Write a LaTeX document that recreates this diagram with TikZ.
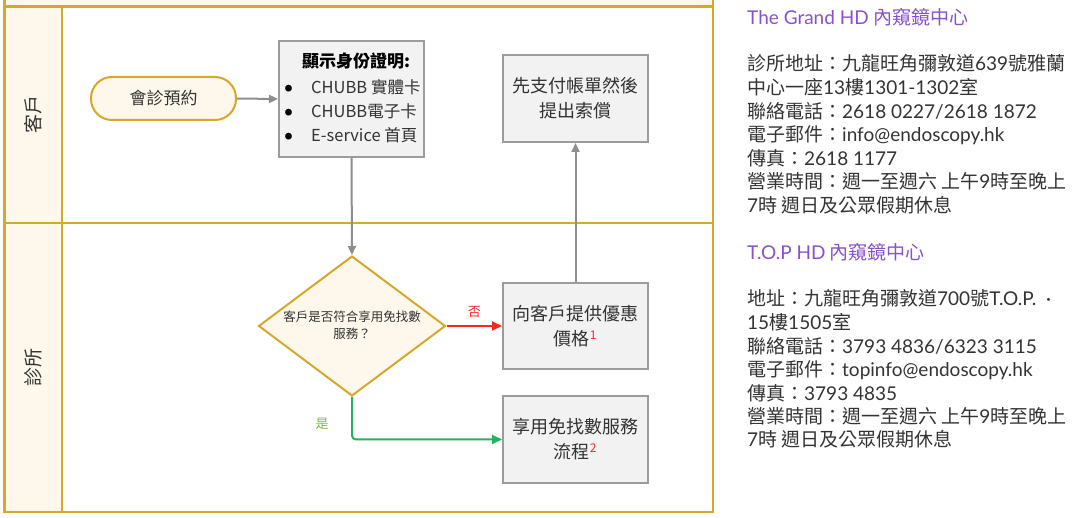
\documentclass[tikz,border=0pt]{standalone}
\usepackage{fontspec}
\setmainfont{Noto Sans CJK TC}
\newfontfamily\lato{Lato}
\usetikzlibrary{shapes.geometric,arrows.meta}
\definecolor{gold}{HTML}{D6A82A}
\definecolor{cream}{HTML}{FEF8EC}
\definecolor{boxfill}{HTML}{F2F2F2}
\definecolor{boxline}{HTML}{9C9C9C}
\definecolor{arrgray}{HTML}{8E8E8E}
\definecolor{nored}{HTML}{FF2424}
\definecolor{yesgreen}{HTML}{22B35E}
\definecolor{yeslabel}{HTML}{7DB548}
\definecolor{purp}{HTML}{8A4FCC}
\definecolor{txt}{HTML}{333333}
\tikzset{
  lane/.style={draw=gold, line width=2.4pt},
  grayrect/.style={draw=boxline, fill=boxfill, line width=2pt, minimum width=145pt, inner sep=0pt, text=txt, align=center, font=\fontsize{18}{25}\selectfont},
  conn/.style={draw=arrgray, line width=2pt, -{Triangle[width=8pt,length=9pt]}},
  info/.style={anchor=base west, inner sep=0pt, text=txt, font=\fontsize{19}{23}\selectfont},
  infohead/.style={anchor=base west, inner sep=0pt, text=purp, font=\fontsize{19}{23}\selectfont},
  bul/.style={inner sep=0pt, text=black, font=\fontsize{7.5}{7.5}\selectfont},
  item/.style={anchor=base west, inner sep=0pt, font=\fontsize{16.5}{16.5}\selectfont, text=txt},
}
\newcommand{\supred}[1]{\textsuperscript{\textcolor{nored}{\fontsize{12}{12}\selectfont #1}}}
\begin{document}
\begin{tikzpicture}[x=1pt,y=-1pt]
\useasboundingbox (0,0) rectangle (1080,518);
% pool frame
\fill[cream] (4.5,0) rectangle (713,6.5);
\fill[cream] (4.5,6.5) rectangle (62,512);
\draw[lane] (4.5,0) -- (4.5,512) -- (713,512) -- (713,0);
\draw[lane] (4.5,6.5) -- (713,6.5);
\draw[lane] (4.5,223) -- (713,223);
\draw[lane] (62,6.5) -- (62,512);
\node[rotate=90, text=txt, font=\fontsize{19}{19}\selectfont] (lane1) at (33,115) {客戶};
\node[rotate=90, text=txt, font=\fontsize{19}{19}\selectfont] (lane2) at (33,368) {診所};
% nodes
\node[draw=gold, fill=cream, line width=2pt, rounded corners=21pt, minimum width=145pt, minimum height=43pt, text=txt, font=\fontsize{17}{17}\selectfont] (start) at (163.5,98.5) {會診預約};
\node[grayrect, minimum height=116pt] (id) at (351.5,99) {};
\node[text=black, font=\fontsize{17}{17}\selectfont\bfseries] (idt) at (356,61) {顯示身份證明:};
\node[bul] (b1) at (288.5,88.5) {●};
\node[bul] (b2) at (288.5,112.5) {●};
\node[bul] (b3) at (288.5,136.5) {●};
\node[item] (i1) at (311,94) {CHUBB 實體卡};
\node[item] (i2) at (311,118) {CHUBB電子卡};
\node[item] (i3) at (311,142) {E-service 首頁};
\node[grayrect, minimum height=87pt] (pay) at (575.5,98.5) {先支付帳單然後\\提出索償};
\node[grayrect, minimum height=86pt] (offer) at (575.5,326) {向客戶提供優惠\\價格\supred{1}};
\node[grayrect, minimum height=87pt] (free) at (575.5,439.5) {享用免找數服務\\流程\supred{2}};
\node[diamond, draw=gold, fill=cream, line width=2pt, minimum width=187pt, minimum height=140pt, inner sep=0pt] (dec) at (352,326) {};
\node[align=center, text=txt, font=\fontsize{12.5}{17}\selectfont] (dect) at (352,325) {客戶是否符合享用免找數\\服務？};
% connectors
\draw[conn] (start.east) -- (id.west);
\draw[conn] (id.south) -- (dec.north);
\draw[conn] (offer.north) -- (pay.south);
\draw[draw=nored, line width=2pt, -{Triangle[width=9pt,length=10pt]}] (dec.east) -- node[above=4pt, text=nored, font=\fontsize{13}{13}\selectfont] (no) {否} (offer.west);
\draw[draw=yesgreen, line width=2pt, rounded corners=4pt, -{Triangle[width=9pt,length=10pt]}] (dec.south) |- (free.west);
\node[text=yeslabel, font=\fontsize{13}{13}\selectfont] (yes) at (322,424) {是};
% right info text
\node[infohead] (h1) at (747,25) {{\lato The Grand HD} 內窺鏡中心};
\node[info] (t1) at (747,71) {診所地址：九龍旺角彌敦道{\lato 639}號雅蘭};
\node[info] (t2) at (747,95) {中心一座{\lato 13}樓{\lato 1301-1302}室};
\node[info] (t3) at (747,119) {聯絡電話：{\lato 2618 0227/2618 1872}};
\node[info] (t4) at (747,142) {電子郵件：{\lato info@endoscopy.hk}};
\node[info] (t5) at (747,166) {傳真：{\lato 2618 1177}};
\node[info] (t6) at (747,189) {營業時間：週一至週六 上午{\lato 9}時至晚上};
\node[info] (t7) at (747,213) {{\lato 7}時 週日及公眾假期休息};
\node[infohead] (h2) at (747,260) {{\lato T.O.P HD} 內窺鏡中心};
\node[info] (u1) at (747,306) {地址：九龍旺角彌敦道{\lato 700}號{\lato T.O.P.\ \ ·}};
\node[info] (u2) at (747,330) {{\lato 15}樓{\lato 1505}室};
\node[info] (u3) at (747,354) {聯絡電話：{\lato 3793 4836/6323 3115}};
\node[info] (u4) at (747,377) {電子郵件：{\lato topinfo@endoscopy.hk}};
\node[info] (u5) at (747,401) {傳真：{\lato 3793 4835}};
\node[info] (u6) at (747,424) {營業時間：週一至週六 上午{\lato 9}時至晚上};
\node[info] (u7) at (747,447) {{\lato 7}時 週日及公眾假期休息};
\end{tikzpicture}
\end{document}
